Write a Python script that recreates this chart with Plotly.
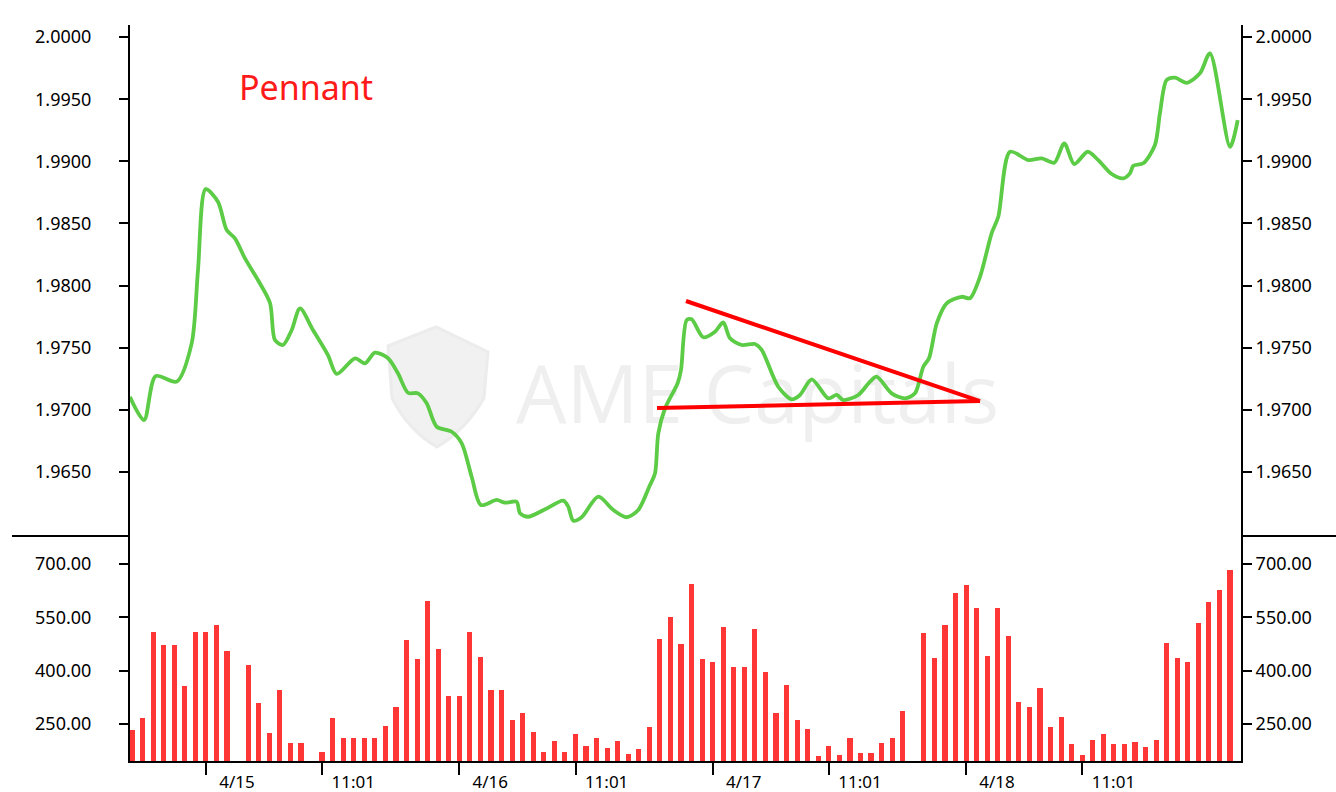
import pandas as pd
import plotly.graph_objects as go

# ---------------- data ----------------
start_time = pd.Timestamp("2024-04-14 17:00")

volume = [233, 267, 510, 471, 471, 357, 510, 510, 529, 454,
          None, 415, 308, 224, 346, 196, 196, None, 171, 267,
          211, 211, 211, 211, 244, 298, 486, 432, 596, 460,
          329, 329, 510, 439, 346, 346, 261, 281, 228, 171,
          203, 171, 222, 187, 212, 182, 203, 166, 179, 243,
          489, 551, 476, 643, 432, 424, 522, 410, 410, 516,
          397, 282, 360, 261, 236, 161, 187, 164, 211, 168,
          168, 197, 210, 286, None, 507, 436, 529, 619, 642,
          577, 441, 577, 497, 312, 297, 350, 241, 269, 193,
          164, 204, 222, 193, 193, 200, 186, 204, 479, 437,
          424, 533, 592, 628, 684]

price_hours = [-0.2, 1.14, 2.24, 4.23, 5.65, 6.25, 6.98, 8.14, 8.97, 9.75,
               10.70, 11.93, 13.07, 13.54, 14.30, 15.13, 15.91, 17.14, 18.56, 19.39,
               21.12, 22.07, 23.01, 24.25, 25.19, 26.14, 27.09, 27.91, 28.86, 30.28,
               31.23, 32.17, 33.05, 34.54, 35.33, 36.43, 36.75, 37.51, 39.12, 40.85,
               41.32, 41.80, 42.59, 44.16, 45.59, 46.85, 47.95, 49.06, 49.54, 49.85,
               50.49, 51.68, 52.00, 52.54, 53.01, 54.11, 55.22, 56.00, 56.64, 57.75,
               59.00, 59.64, 61.21, 62.48, 63.27, 64.38, 65.95, 66.74, 67.37, 68.79,
               69.90, 70.53, 71.95, 73.21, 74.16, 74.95, 75.49, 76.22, 77.16, 78.58,
               79.37, 80.32, 81.42, 82.05, 83.16, 84.89, 86.16, 87.36, 88.30, 89.25,
               90.52, 91.52, 92.79, 93.89, 94.52, 94.84, 95.78, 96.89, 97.36, 98.00,
               98.79, 99.90, 101.15, 102.10, 104.00, 104.73]

price_values = [1.97106, 1.96918, 1.97272, 1.97227, 1.97535, 1.98125, 1.98776, 1.98675, 1.98447, 1.98380,
                1.98219, 1.98045, 1.97860, 1.97562, 1.97522, 1.97643, 1.97817, 1.97643, 1.97441, 1.97289,
                1.97415, 1.97375, 1.97460, 1.97415, 1.97294, 1.97138, 1.97133, 1.97053, 1.96864, 1.96824,
                1.96731, 1.96462, 1.96234, 1.96275, 1.96253, 1.96261, 1.96168, 1.96140, 1.96200, 1.96269,
                1.96221, 1.96108, 1.96136, 1.96301, 1.96194, 1.96136, 1.96194, 1.96395, 1.96490, 1.96811,
                1.97013, 1.97214, 1.97321, 1.97723, 1.97729, 1.97584, 1.97629, 1.97704, 1.97576, 1.97522,
                1.97530, 1.97482, 1.97186, 1.97085, 1.97120, 1.97246, 1.97093, 1.97120, 1.97079, 1.97120,
                1.97227, 1.97267, 1.97133, 1.97093, 1.97133, 1.97347, 1.97415, 1.97696, 1.97857, 1.97910,
                1.97898, 1.98071, 1.98421, 1.98554, 1.99077, 1.99010, 1.99024, 1.98989, 1.99145, 1.98978,
                1.99077, 1.99010, 1.98898, 1.98863, 1.98903, 1.98964, 1.98984, 1.99131, 1.99386, 1.99654,
                1.99673, 1.99632, 1.99708, 1.99869, 1.99117, 1.99332]

pennant_upper_hours = [52.47, 80.32]
pennant_upper_values = [1.97876, 1.97071]
pennant_lower_hours = [49.73, 80.32]
pennant_lower_values = [1.97015, 1.97071]

price_ticks = [1.9650, 1.9700, 1.9750, 1.9800, 1.9850, 1.9900, 1.9950, 2.0000]
volume_ticks = [250, 400, 550, 700]
x_tick_times = ["2024-04-15 00:00", "2024-04-15 11:01", "2024-04-16 00:00", "2024-04-16 11:01",
                "2024-04-17 00:00", "2024-04-17 11:01", "2024-04-18 00:00", "2024-04-18 11:01"]
x_tick_labels = ["4/15", "11:01", "4/16", "11:01", "4/17", "11:01", "4/18", "11:01"]

# ---------------- derived ----------------
def at_hours(h):
    return start_time + pd.Timedelta(hours=h)

bar_times = [at_hours(i) for i in range(len(volume))]
line_times = [at_hours(h) for h in price_hours]
x_range = [at_hours(-0.19), at_hours(105.04)]

GREEN = "#5CCB45"
RED_BAR = "#FF3636"
FONT = "Noto Sans"

W, H = 1336, 792
ML, MR, MT, MB = 130, 95, 25, 31


def paper(px, py):
    """pixel position -> paper coordinates (decorations only)"""
    return (px - ML) / (W - ML - MR), (H - MB - py) / (H - MT - MB)


def shield_path():
    pts = [(388, 346), (436, 327), (488, 352), (484, 398), (466, 430), (437, 447),
           (408, 430), (392, 398)]
    p = [paper(x, y) for x, y in pts]
    d = "M {:.4f},{:.4f} ".format(*p[0])
    d += "L {:.4f},{:.4f} L {:.4f},{:.4f} L {:.4f},{:.4f} ".format(*p[1], *p[2], *p[3])
    d += "Q {:.4f},{:.4f} {:.4f},{:.4f} ".format(*p[4], *p[5])
    d += "Q {:.4f},{:.4f} {:.4f},{:.4f} Z".format(*p[6], *p[7])
    return d


fig = go.Figure()

fig.add_trace(go.Scatter(
    x=line_times, y=price_values, mode="lines",
    line=dict(color=GREEN, width=3.8, shape="spline", smoothing=0.8),
    xaxis="x", yaxis="y", showlegend=False, hoverinfo="skip"))

fig.add_trace(go.Scatter(
    x=[at_hours(h) for h in pennant_upper_hours], y=pennant_upper_values, mode="lines",
    line=dict(color="#FF0000", width=4), xaxis="x", yaxis="y", showlegend=False, hoverinfo="skip"))
fig.add_trace(go.Scatter(
    x=[at_hours(h) for h in pennant_lower_hours], y=pennant_lower_values, mode="lines",
    line=dict(color="#FF0000", width=4), xaxis="x", yaxis="y", showlegend=False, hoverinfo="skip"))

fig.add_trace(go.Bar(
    x=bar_times, y=volume, width=1.75e6, marker=dict(color=RED_BAR, line=dict(width=0)),
    xaxis="x2", yaxis="y2", showlegend=False, hoverinfo="skip"))

# invisible helpers so the right-hand axes render
fig.add_trace(go.Scatter(x=[line_times[0]], y=[price_values[0]], mode="markers",
                         marker=dict(opacity=0), xaxis="x", yaxis="y3",
                         showlegend=False, hoverinfo="skip"))
fig.add_trace(go.Scatter(x=[bar_times[0]], y=[volume[0]], mode="markers",
                         marker=dict(opacity=0), xaxis="x2", yaxis="y4",
                         showlegend=False, hoverinfo="skip"))

split = 0.3057
price_range = [1.95985, 2.00097]
vol_range = [146, 778.75]

yaxis_common = dict(showgrid=False, zeroline=False, showline=True, linecolor="black",
                    linewidth=2, ticks="outside", ticklen=9, tickwidth=2, tickcolor="black",
                    automargin=False,
                    tickfont=dict(family=FONT, size=18, color="black"))

wm_x0, wm_y0 = paper(500, 350)
wm_x1, wm_y1 = paper(1015, 445)

fig.update_layout(
    width=W, height=H,
    margin=dict(l=ML, r=MR, t=MT, b=MB, autoexpand=False),
    paper_bgcolor="white", plot_bgcolor="white",
    bargap=0,
    xaxis=dict(domain=[0, 1], anchor="y", matches="x2", range=x_range, type="date",
               showticklabels=False, showline=False, showgrid=False, zeroline=False, ticks="",
               automargin=False),
    xaxis2=dict(domain=[0, 1], anchor="y2", range=x_range, type="date",
                tickvals=x_tick_times, ticktext=x_tick_labels,
                showline=True, linecolor="black", linewidth=2, showgrid=False, zeroline=False,
                ticks="outside", ticklen=12, tickwidth=2, tickcolor="black",
                ticklabelshift=31, ticklabelstandoff=-7, automargin=False,
                tickfont=dict(family=FONT, size=17, color="black")),
    yaxis=dict(domain=[split, 1], anchor="x", range=price_range, tickvals=price_ticks,
               tickformat=".4f", ticklabelstandoff=24, **yaxis_common),
    yaxis3=dict(overlaying="y", side="right", anchor="x", range=price_range,
                tickvals=price_ticks, tickformat=".4f", **yaxis_common),
    yaxis2=dict(domain=[0, split], anchor="x2", range=vol_range, tickvals=volume_ticks,
                tickformat=".2f", ticklabelstandoff=24, **yaxis_common),
    yaxis4=dict(overlaying="y2", side="right", anchor="x2", range=vol_range,
                tickvals=volume_ticks, tickformat=".2f", **yaxis_common),
    shapes=[
        dict(type="line", xref="paper", yref="paper", x0=paper(12, 0)[0], x1=0, y0=split, y1=split,
             line=dict(color="black", width=2)),
        dict(type="line", xref="paper", yref="paper", x0=1, x1=paper(1336, 0)[0], y0=split, y1=split,
             line=dict(color="black", width=2)),
        # watermark (behind the data)
        dict(type="path", xref="paper", yref="paper", path=shield_path(), layer="below",
             fillcolor="#F1F1F1", line=dict(color="#ECECEC", width=3)),
        dict(type="rect", xref="paper", yref="paper", x0=wm_x0, x1=wm_x1, y0=wm_y1, y1=wm_y0,
             layer="below", line=dict(width=0), fillcolor="rgba(0,0,0,0)",
             label=dict(text="AME Capitals", textposition="middle center",
                        font=dict(family="Open Sans", size=80, color="#EFEFEF"))),
    ],
    annotations=[
        dict(text="Pennant", xref="paper", yref="paper", x=paper(237, 0)[0], y=paper(0, 87)[1],
             xanchor="left", yanchor="middle", showarrow=False,
             font=dict(family=FONT, size=34, color="#FF1A1A")),
    ],
)

fig.write_html("out.html", config={"displayModeBar": False},
               post_script="document.body.style.margin='0px';")
